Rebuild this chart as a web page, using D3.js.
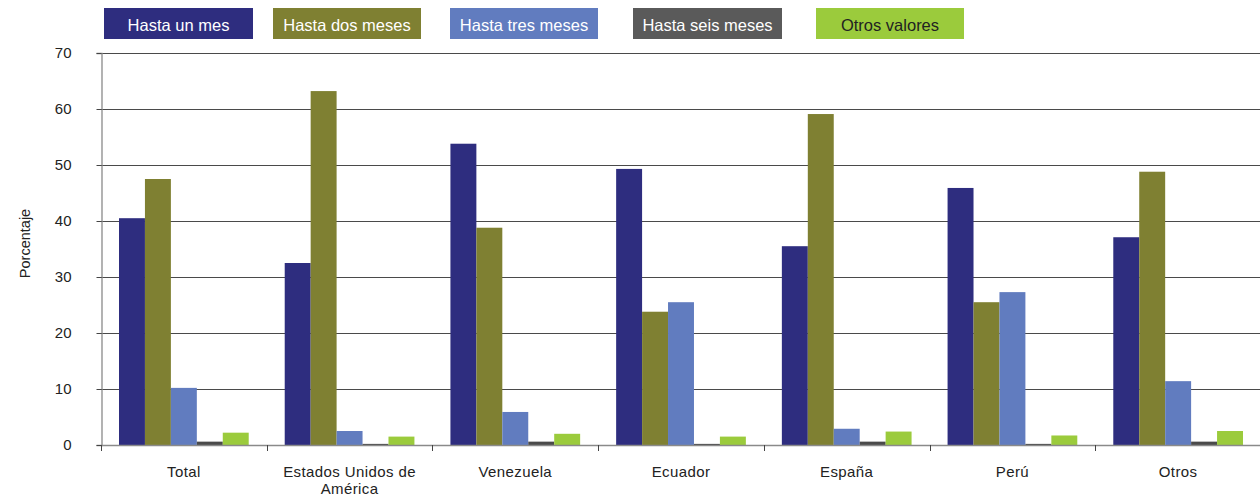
<!DOCTYPE html>
<html><head><meta charset="utf-8">
<script src="https://cdn.jsdelivr.net/npm/d3@7"></script>
<style>body{margin:0;background:#fff}svg{display:block}text{font-family:"Liberation Sans",Arial,sans-serif}</style>
</head><body><svg id="c" width="1260" height="500"></svg>
<script>
const categories = ["Total", "Estados Unidos de América", "Venezuela", "Ecuador", "España", "Perú", "Otros"];
const categoryLines = [["Total"], ["Estados Unidos de", "América"], ["Venezuela"], ["Ecuador"], ["España"], ["Perú"], ["Otros"]];
const seriesNames = ["Hasta un mes", "Hasta dos meses", "Hasta tres meses", "Hasta seis meses", "Otros valores"];
const hastaUnMes = [40.5, 32.5, 53.8, 49.3, 35.5, 45.9, 37.1];
const hastaDosMeses = [47.5, 63.2, 38.8, 23.8, 59.1, 25.5, 48.8];
const hastaTresMeses = [10.2, 2.5, 5.9, 25.5, 2.9, 27.3, 11.4];
const hastaSeisMeses = [0.6, 0.2, 0.6, 0.2, 0.6, 0.2, 0.6];
const otrosValores = [2.2, 1.5, 2.0, 1.5, 2.4, 1.7, 2.5];
const yTicks = [0, 10, 20, 30, 40, 50, 60, 70];
const colors = ["#2e2d7f", "#7f8032", "#617cbf", "#4a4a4a", "#9bcb3c"];
const legendColors = ["#2e2d7f", "#7f8032", "#617cbf", "#5a5a5a", "#9bcb3c"];
const legendText = ["#fff", "#fff", "#fff", "#fff", "#222"];

(function () {
const series = [hastaUnMes, hastaDosMeses, hastaTresMeses, hastaSeisMeses, otrosValores];
const svg = d3.select("#c");
const mLeft = 101, mRight = 1261, mTop = 53, mBottom = 445;

const x0 = d3.scaleBand().domain(categories).range([mLeft, mRight]).padding(0);
const pad = 18;
const x1 = d3.scaleBand().domain(seriesNames).range([pad, x0.bandwidth() - pad]).padding(0);
const y = d3.scaleLinear().domain([0, 70]).range([mBottom, mTop]);

// gridlines
svg.append("g").selectAll("line").data(yTicks.filter(d => d > 0)).join("line")
  .attr("x1", mLeft).attr("x2", 1260).attr("y1", d => y(d) + 0.5).attr("y2", d => y(d) + 0.5)
  .attr("stroke", "#4a4a4a").attr("stroke-width", 1);

// bars
const g = svg.append("g");
categories.forEach((c, i) => {
  series.forEach((s, j) => {
    g.append("rect")
      .attr("x", x0(c) + x1(seriesNames[j]))
      .attr("width", x1.bandwidth())
      .attr("y", y(s[i]))
      .attr("height", y(0) - y(s[i]))
      .attr("fill", colors[j]);
  });
});

// y axis
const ya = svg.append("g").attr("transform", `translate(${mLeft + 0.5},0)`)
  .call(d3.axisLeft(y).tickValues(yTicks).tickSize(5).tickPadding(25));
ya.select(".domain").attr("stroke", "#8a8a8a").attr("stroke-width", 1.3);
ya.selectAll(".tick line").attr("stroke", "#444");
ya.selectAll(".tick text").attr("font-size", 15).attr("fill", "#222").attr("font-family", "Liberation Sans, Arial, sans-serif");

// x baseline + ticks
svg.append("line").attr("x1", mLeft).attr("x2", 1260).attr("y1", mBottom + 0.5).attr("y2", mBottom + 0.5)
  .attr("stroke", "#8a8a8a").attr("stroke-width", 1.3);
svg.append("g").selectAll("line").data(categories).join("line")
  .attr("x1", d => Math.round(x0(d)) + 0.5).attr("x2", d => Math.round(x0(d)) + 0.5)
  .attr("y1", mBottom).attr("y2", mBottom + 6).attr("stroke", "#444");

// category labels
categories.forEach((c, i) => {
  const cx = x0(c) + x0.bandwidth() / 2;
  const t = svg.append("text").attr("x", cx).attr("y", 477)
    .attr("text-anchor", "middle").attr("font-size", 15).attr("fill", "#222").attr("letter-spacing", 0.4);
  categoryLines[i].forEach((ln, k) => {
    t.append("tspan").attr("x", cx).attr("dy", k === 0 ? 0 : 16.5).text(ln);
  });
});

// y title
svg.append("text").attr("transform", "translate(29.5,243.5) rotate(-90)").attr("text-anchor", "middle")
  .attr("font-size", 14.5).attr("fill", "#222").text("Porcentaje");

// legend
const legendX = [104, 273, 450, 633, 816];
const legendW = [149, 148, 148, 149, 148];
seriesNames.forEach((n, j) => {
  svg.append("rect").attr("x", legendX[j]).attr("y", 8).attr("width", legendW[j]).attr("height", 31).attr("fill", legendColors[j]);
  svg.append("text").attr("x", legendX[j] + legendW[j] / 2).attr("y", 30.5).attr("text-anchor", "middle")
    .attr("font-size", 16.5).attr("fill", legendText[j]).text(n);
});
})();
</script></body></html>
